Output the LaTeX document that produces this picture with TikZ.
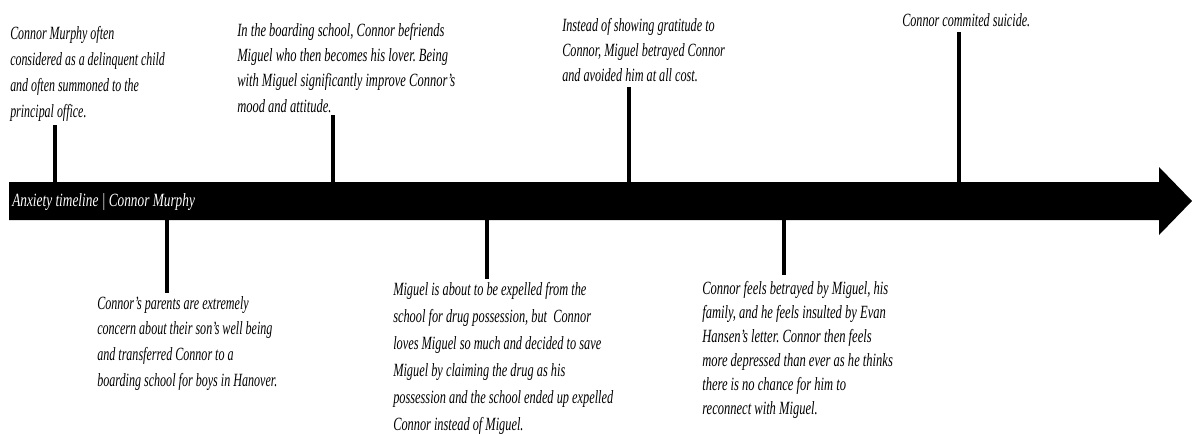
\documentclass[tikz,border=0pt]{standalone}
\usepackage{graphicx}
\usepackage{fontspec}
\setmainfont{Liberation Serif}
\frenchspacing
\newcommand{\tltext}[3]{\resizebox{#1}{\height}{\fontsize{14}{#2}\selectfont\itshape\begin{tabular}[t]{@{}l@{}}#3\end{tabular}}}
\tikzset{
  evt/.style={anchor=base west, inner sep=0pt, text=black},
  tickline/.style={line width=3.6pt, draw=black},
}
\begin{document}
\begin{tikzpicture}[x=0.75pt, y=-0.75pt]
\useasboundingbox[fill=white] (0,0) rectangle (1192,433);
% main arrow bar
\fill[black] (9,182) -- (1159,182) -- (1159,167) -- (1192,201) -- (1159,235) -- (1159,220) -- (9,220) -- cycle;
\node[evt, text=white] (title) at (12,206) {\tltext{137pt}{19.5pt}{Anxiety timeline | Connor Murphy}};

% texts above
\node[evt] (t1) at (10,39) {\tltext{116pt}{19.5pt}{Connor Murphy often\\considered as a delinquent child\\and often summoned to the\\principal office.}};
\node[evt] (t3) at (237,36) {\tltext{163.5pt}{19pt}{In the boarding school, Connor befriends\\Miguel who then becomes his lover. Being\\with Miguel significantly improve Connor's\\mood and attitude.}};
\node[evt] (t4) at (562,31) {\tltext{122pt}{19pt}{Instead of showing gratitude to\\Connor, Miguel betrayed Connor\\and avoided him at all cost.}};
\node[evt] (t5) at (902,26) {\tltext{96pt}{19pt}{Connor commited suicide.}};

% texts below
\node[evt] (t2) at (97,309) {\tltext{135pt}{19.25pt}{Connor's parents are extremely\\concern about their son's well being\\and transferred Connor to a\\boarding school for boys in Hanover.}};
\node[evt] (t6) at (393,295) {\tltext{165pt}{20.3pt}{Miguel is about to be expelled from the\\school for drug possession, but~ Connor\\loves Miguel so much and decided to save\\Miguel by claiming the drug as his\\possession and the school ended up expelled\\Connor instead of Miguel.}};
\node[evt] (t7) at (702,294) {\tltext{143pt}{18pt}{Connor feels betrayed by Miguel, his\\family, and he feels insulted by Evan\\Hansen's letter. Connor then feels\\more depressed than ever as he thinks\\there is no chance for him to\\reconnect with Miguel.}};

% tick coordinates
\coordinate (k1a) at (55,125);  \coordinate (k1b) at (55,182);
\coordinate (k3a) at (333,115); \coordinate (k3b) at (333,182);
\coordinate (k4a) at (629,87);  \coordinate (k4b) at (629,182);
\coordinate (k5a) at (959,32);  \coordinate (k5b) at (959,182);
\coordinate (k2a) at (167,220); \coordinate (k2b) at (167,293);
\coordinate (k6a) at (487,220); \coordinate (k6b) at (487,279);
\coordinate (k7a) at (784,220); \coordinate (k7b) at (784,275);

\draw[tickline] (k1a) -- (k1b);
\draw[tickline] (k3a) -- (k3b);
\draw[tickline] (k4a) -- (k4b);
\draw[tickline] (k5a) -- (k5b);
\draw[tickline] (k2a) -- (k2b);
\draw[tickline] (k6a) -- (k6b);
\draw[tickline] (k7a) -- (k7b);
\end{tikzpicture}
\end{document}
